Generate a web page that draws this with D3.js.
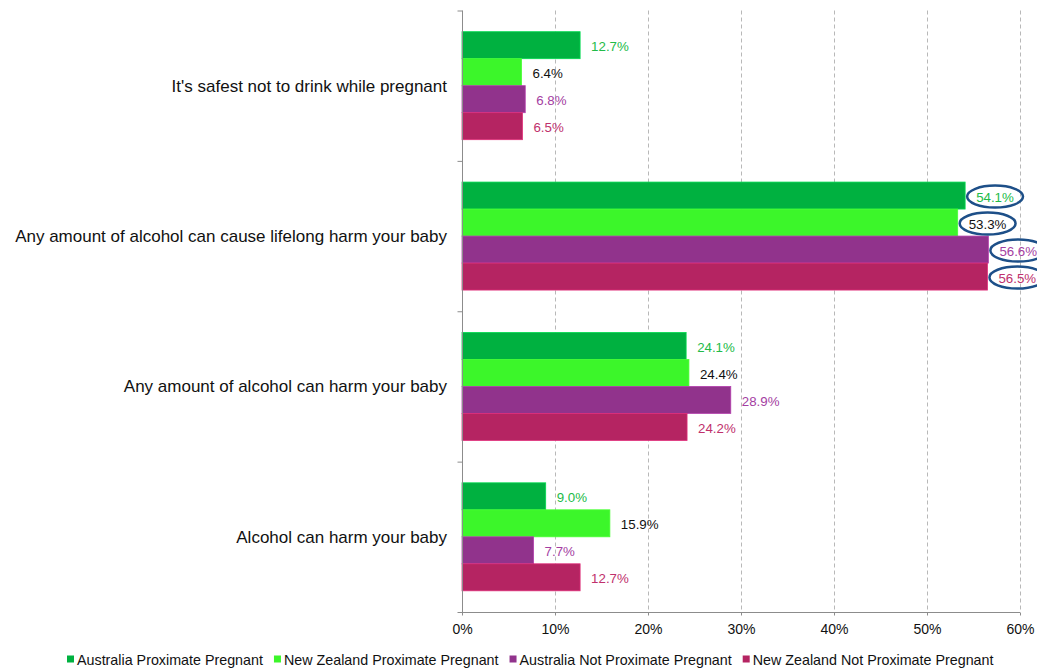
<!DOCTYPE html>
<html><head><meta charset="utf-8">
<script src="https://cdn.jsdelivr.net/npm/d3@7/dist/d3.min.js"></script>
<style>body{margin:0;background:#fff}svg{display:block;font-family:"Liberation Sans",Arial,sans-serif}</style>
</head><body><svg id="c" width="1037" height="668"></svg>
<script>
const categories = [
  "It's safest not to drink while pregnant",
  "Any amount of alcohol can cause lifelong harm your baby",
  "Any amount of alcohol can harm your baby",
  "Alcohol can harm your baby"
];
const seriesNames = [
  "Australia Proximate Pregnant",
  "New Zealand Proximate Pregnant",
  "Australia Not Proximate Pregnant",
  "New Zealand Not Proximate Pregnant"
];
const ausProx = [12.7, 54.1, 24.1, 9.0];
const nzProx = [6.4, 53.3, 24.4, 15.9];
const ausNotProx = [6.8, 56.6, 28.9, 7.7];
const nzNotProx = [6.5, 56.5, 24.2, 12.7];
const xTicks = [0, 10, 20, 30, 40, 50, 60];
const highlighted = ["Any amount of alcohol can cause lifelong harm your baby"];

const barColors = ["#00b140", "#3cf62a", "#91338c", "#b52462"];
const labelColors = ["#22bb48", "#111111", "#a43ea2", "#c0306c"];
const values = [ausProx, nzProx, ausNotProx, nzNotProx];

const svg = d3.select("#c");
const pL = 462, pR = 1020, pT = 10.5, pB = 612;

const x = d3.scaleLinear().domain([0, 60]).range([pL, pR]);
const y0 = d3.scaleBand().domain(categories).range([pT, pB]);
const y1 = d3.scaleBand().domain(seriesNames).range([0, y0.bandwidth()]).paddingOuter(0.785);

// gridlines
svg.append("g").selectAll("line").data(xTicks.filter(t => t > 0)).join("line")
  .attr("x1", d => x(d) + 0.5).attr("x2", d => x(d) + 0.5)
  .attr("y1", pT).attr("y2", pB)
  .attr("stroke", "#b8b8b8").attr("stroke-dasharray", "4,3").attr("stroke-width", 1);

// bars
const rows = [];
categories.forEach((c, i) => seriesNames.forEach((s, j) => rows.push({c, s, j, v: values[j][i]})));
svg.append("g").selectAll("rect").data(rows).join("rect")
  .attr("x", x(0)).attr("y", d => y0(d.c) + y1(d.s))
  .attr("width", d => x(d.v) - x(0)).attr("height", y1.bandwidth())
  .attr("fill", d => barColors[d.j])
  .attr("stroke", d => d3.color(barColors[d.j]).brighter(0.6)).attr("stroke-width", 0.8);

// value labels
const lbl = svg.append("g").selectAll("text").data(rows).join("text")
  .attr("x", d => x(d.v) + 11).attr("y", d => y0(d.c) + y1(d.s) + y1.bandwidth() / 2 + 6)
  .attr("font-size", 13.3).attr("fill", d => labelColors[d.j])
  .text(d => d.v.toFixed(1) + "%");

// ellipses around highlighted labels
lbl.each(function(d) {
  if (!highlighted.includes(d.c)) return;
  const bb = this.getBBox();
  svg.append("ellipse")
    .attr("cx", bb.x + bb.width / 2).attr("cy", y0(d.c) + y1(d.s) + y1.bandwidth() / 2 + 1)
    .attr("rx", bb.width / 2 + 9).attr("ry", 11)
    .attr("fill", "none").attr("stroke", "#1d4f88").attr("stroke-width", 2.5);
});

// y axis
const yAxis = svg.append("g").attr("transform", `translate(${pL + 0.5},0)`);
yAxis.append("line").attr("x1", 0).attr("x2", 0).attr("y1", pT).attr("y2", pB + 3).attr("stroke", "#8c8c8c");
const yTickPos = categories.map(c => y0(c)).concat([pB]);
yAxis.selectAll("line.t").data(yTickPos).join("line").attr("class", "t")
  .attr("x1", -5).attr("x2", 0).attr("y1", d => d + 0.5).attr("y2", d => d + 0.5).attr("stroke", "#8c8c8c");
svg.append("g").selectAll("text").data(categories).join("text")
  .attr("x", 447).attr("y", d => y0(d) + y0.bandwidth() / 2 + 6)
  .attr("text-anchor", "end").attr("font-size", 17).attr("fill", "#111")
  .text(d => d);

// x axis
const xAxis = svg.append("g").attr("transform", `translate(0,${pB + 0.5})`)
  .call(d3.axisBottom(x).tickValues(xTicks).tickFormat(d => d + "%").tickSize(3).tickPadding(9));
xAxis.select(".domain").attr("stroke", "#8c8c8c").attr("d", `M${pL - 4},0H${pR}`);
xAxis.selectAll(".tick line").attr("stroke", "#8c8c8c");
xAxis.selectAll("text").attr("font-size", 14).attr("fill", "#111").attr("font-family", '"Liberation Sans",Arial,sans-serif');

// legend
const leg = svg.append("g");
let lx = 67;
seriesNames.forEach((s, j) => {
  leg.append("rect").attr("x", lx).attr("y", 655.5).attr("width", 7).attr("height", 7).attr("fill", barColors[j]);
  const t = leg.append("text").attr("x", lx + 10).attr("y", 665).attr("font-size", 14.3).attr("fill", "#111").text(s);
  lx += 10 + t.node().getComputedTextLength() + 11;
});
</script></body></html>
